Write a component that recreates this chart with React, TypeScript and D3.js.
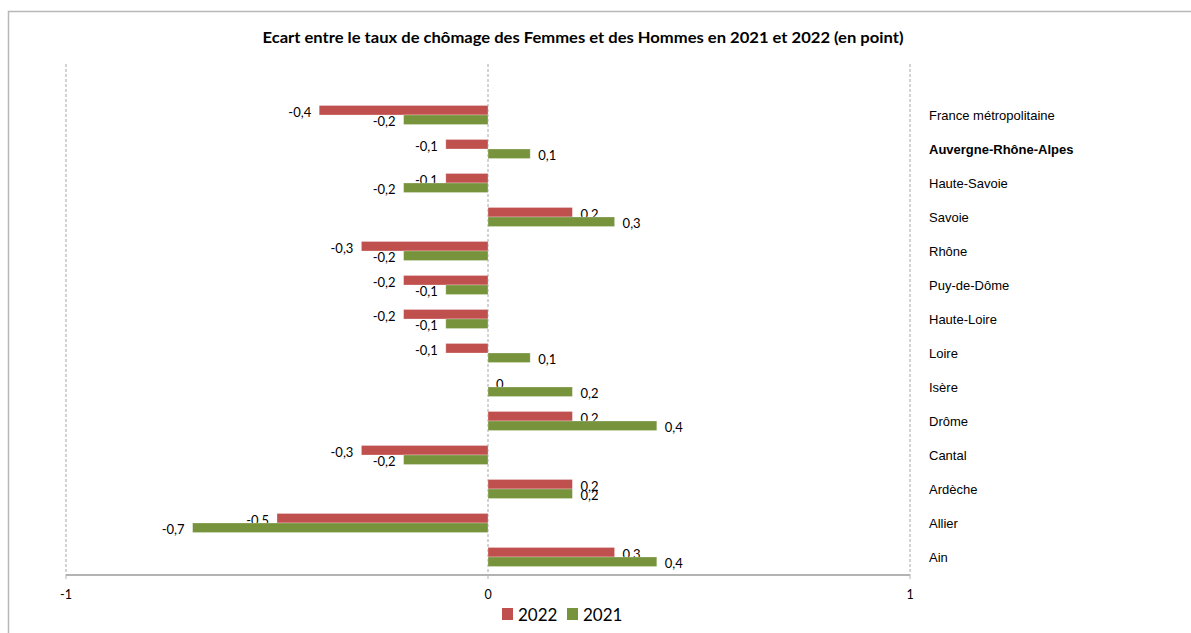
import * as d3 from "d3";

// categories from top to bottom (as shown)
const categories = [
  "France métropolitaine",
  "Auvergne-Rhône-Alpes",
  "Haute-Savoie",
  "Savoie",
  "Rhône",
  "Puy-de-Dôme",
  "Haute-Loire",
  "Loire",
  "Isère",
  "Drôme",
  "Cantal",
  "Ardèche",
  "Allier",
  "Ain",
];
const values2022 = [-0.4, -0.1, -0.1, 0.2, -0.3, -0.2, -0.2, -0.1, 0, 0.2, -0.3, 0.2, -0.5, 0.3];
const values2021 = [-0.2, 0.1, -0.2, 0.3, -0.2, -0.1, -0.1, 0.1, 0.2, 0.4, -0.2, 0.2, -0.7, 0.4];
const seriesNames = ["2022", "2021"];
const seriesColors = ["#C0504D", "#77933C"];
const xTicks = [-1, 0, 1];
const title = "Ecart entre le taux de chômage des Femmes et des Hommes en 2021 et 2022 (en point)";

const width = 1191;
const height = 633;
const marginLeft = 66;
const plotRight = 910;
const plotTop = 64;
const plotBottom = 574;

export default function App() {
  const x = d3.scaleLinear([-1, 1], [marginLeft, plotRight]);
  // an empty slot above the first category, like the original
  const y = d3.scaleBand(["", ...categories], [plotTop, plotBottom]);
  const bw = y.bandwidth();
  const groupH = bw * 0.56;
  const inner = d3.scaleBand(seriesNames, [0, groupH]);
  const fmt = (v: number) => (v === 0 ? "0" : d3.format(".1f")(v).replace(".", ",").replace("−", "-"));

  const rows = categories.map((c, i) => ({ c, vals: [values2022[i], values2021[i]] }));

  return (
    <svg
      width={width}
      height={height}
      style={{ position: "absolute", left: 0, top: 0, background: "white" }}
    >
      <rect x={8.5} y={11.5} width={1300} height={800} fill="white" stroke="#b8b8b8" strokeWidth={1.5} />
      <text
        x={583}
        y={43}
        textAnchor="middle"
        fontFamily="Lato, 'Open Sans', sans-serif"
        fontWeight="bold"
        fontSize={15}
        textLength={641}
        lengthAdjust="spacingAndGlyphs"
        fill="#000"
      >
        {title}
      </text>

      {/* grid lines */}
      {xTicks.map((t) => (
        <line
          key={t}
          x1={x(t)}
          x2={x(t)}
          y1={plotTop}
          y2={plotBottom}
          stroke="#a6a6a6"
          strokeDasharray="3,2"
          strokeWidth={1}
        />
      ))}

      {/* bars */}
      {rows.map((r) => {
        const y0 = (y(r.c) as number) + (bw - groupH) / 2;
        return (
          <g key={r.c}>
            {r.vals.map((v, j) => {
              const yy = y0 + (inner(seriesNames[j]) as number);
              const h = inner.bandwidth();
              const x0 = x(Math.min(0, v));
              const w = Math.abs(x(v) - x(0));
              const lx = v < 0 ? x(v) - 8 : x(v) + 8;
              return (
                <g key={j}>
                  {w > 0 && (
                    <rect x={x0} y={yy} width={w} height={h} fill={seriesColors[j]} stroke="#ffffff" strokeOpacity={0.35} strokeWidth={0.8} />
                  )}
                  <text
                    x={v === 0 ? x(v) + 8 : lx}
                    y={yy + h / 2 + 1.5}
                    dominantBaseline="central"
                    textAnchor={v < 0 ? "end" : "start"}
                    fontFamily="Lato, 'Open Sans', sans-serif"
                    fontSize={13}
                    fill="#000"
                  >
                    {fmt(v)}
                  </text>
                </g>
              );
            })}
            <text
              x={929}
              y={(y(r.c) as number) + bw / 2}
              dominantBaseline="central"
              fontFamily="'Liberation Sans', Arial, sans-serif"
              fontSize={13}
              fontWeight={r.c === "Auvergne-Rhône-Alpes" ? "bold" : "normal"}
              fill="#000"
            >
              {r.c}
            </text>
          </g>
        );
      })}

      {/* x axis */}
      <line x1={marginLeft} x2={plotRight} y1={plotBottom + 1} y2={plotBottom + 1} stroke="#b3b3b3" strokeWidth={2} />
      {xTicks.map((t) => (
        <g key={t}>
          <line x1={x(t)} x2={x(t)} y1={plotBottom} y2={plotBottom + 5} stroke="#b3b3b3" strokeWidth={1} />
          <text
            x={x(t)}
            y={594}
            textAnchor="middle"
            dominantBaseline="central"
            fontFamily="Lato, 'Open Sans', sans-serif"
            fontSize={12.5}
            fill="#000"
          >
            {d3.format("d")(t).replace("−", "-")}
          </text>
        </g>
      ))}

      {/* legend */}
      {seriesNames.map((s, i) => (
        <g key={s} transform={`translate(${502 + i * 65},608)`}>
          <rect width={11} height={12} fill={seriesColors[i]} />
          <text x={16} y={6.5} dominantBaseline="central" fontFamily="Lato, 'Open Sans', sans-serif" fontSize={17} fill="#000">
            {s}
          </text>
        </g>
      ))}
    </svg>
  );
}
